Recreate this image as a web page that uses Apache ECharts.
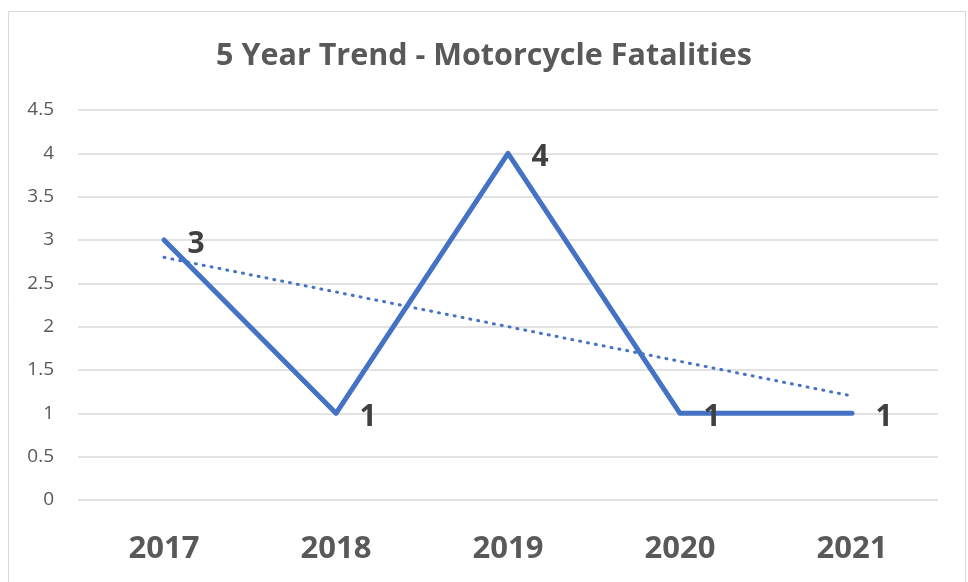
<!DOCTYPE html>
<html>
<head>
<meta charset="utf-8">
<script src="https://cdn.jsdelivr.net/npm/echarts@6/dist/echarts.min.js"></script>
<style>
  html, body { margin: 0; padding: 0; background: #fff; }
  #chart { width: 968px; height: 582px; }
</style>
</head>
<body>
<div id="chart"></div>
<script>
const years = ['2017', '2018', '2019', '2020', '2021'];
const fatalities = [3, 1, 4, 1, 1];
// linear trendline
const trend = [2.8, 2.4, 2.0, 1.6, 1.2];

const chart = echarts.init(document.getElementById('chart'));
const font = '"Open Sans", "Liberation Sans", sans-serif';

chart.setOption({
  animation: false,
  graphic: [{
    type: 'rect',
    shape: { x: 8.5, y: 11.5, width: 957, height: 600 },
    style: { fill: 'none', stroke: '#d9d9d9', lineWidth: 1 },
    silent: true
  }],
  title: {
    text: '5 Year Trend - Motorcycle Fatalities',
    left: 'center',
    top: 36,
    textStyle: { fontFamily: font, fontSize: 30.5, fontWeight: 'bold', color: '#595959' }
  },
  grid: { left: 78, right: 30, top: 110, bottom: 82 },
  xAxis: {
    type: 'category',
    data: years,
    axisLine: { show: false },
    axisTick: { show: false },
    axisLabel: { margin: 34, fontFamily: font, fontSize: 31, fontWeight: 'bold', color: '#595959' }
  },
  yAxis: {
    type: 'value',
    min: 0,
    max: 4.5,
    interval: 0.5,
    axisLine: { show: false },
    axisTick: { show: false },
    axisLabel: { margin: 24, fontFamily: font, fontSize: 19, color: '#595959' },
    splitLine: { lineStyle: { color: '#d9d9d9', width: 1.5 } }
  },
  series: [
    {
      name: 'Fatalities',
      type: 'line',
      data: fatalities,
      symbol: 'circle',
      symbolSize: 3,
      itemStyle: { color: '#4472c4' },
      lineStyle: { color: '#4472c4', width: 5, cap: 'round', join: 'round' },
      label: {
        show: true,
        position: 'right',
        distance: 22,
        offset: [0, 4],
        fontFamily: font,
        fontSize: 30,
        fontWeight: 'bold',
        color: '#404040'
      },
      z: 3
    },
    {
      name: 'Trend',
      type: 'line',
      data: trend,
      symbol: 'none',
      lineStyle: { color: '#4472c4', width: 3, type: [1, 7], cap: 'round' },
      z: 2
    }
  ]
});
</script>
</body>
</html>
